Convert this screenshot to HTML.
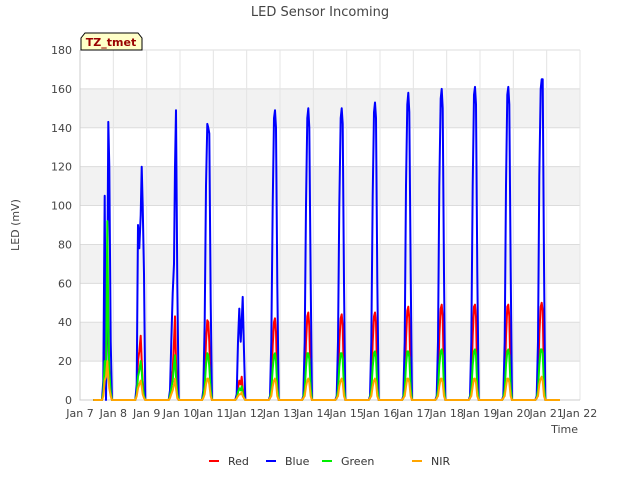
<!DOCTYPE html>
<html><head><meta charset="utf-8"><style>
body{margin:0;background:#fff;font-family:"Liberation Sans","DejaVu Sans",sans-serif}
svg text{font-family:"DejaVu Sans","Liberation Sans",sans-serif}
</style></head><body>
<svg id="c" width="640" height="480" xmlns="http://www.w3.org/2000/svg"></svg>
<script>
const xTickLabels=["Jan 7","Jan 8","Jan 9","Jan 10","Jan 11","Jan 12","Jan 13","Jan 14","Jan 15","Jan 16","Jan 17","Jan 18","Jan 19","Jan 20","Jan 21","Jan 22"];
const yTicks=[0,20,40,60,80,100,120,140,160,180];
const timeOffsets=[0.66,0.70,0.74,0.78,0.82,0.85,0.88,0.92,0.96,1.0];
const blueDays=[
[0,10,105,0,60,143,120,30,0,0],
[0,8,90,78,95,120,100,65,0,0],
[0,5,30,55,70,120,149,60,0,0],
[0,5,40,110,142,140,137,50,0,0],
[0,3,30,47,30,40,53,25,0,0],
[0,2,30,100,145,149,140,60,0,0],
[0,2,30,100,145,150,140,60,0,0],
[0,2,30,100,145,150,142,60,0,0],
[0,2,30,105,148,153,145,62,0,0],
[0,2,30,110,152,158,148,65,0,0],
[0,2,30,110,155,160,150,65,0,0],
[0,2,30,110,157,161,152,66,0,0],
[0,2,30,110,157,161,152,66,0,0],
[0,2,30,115,160,165,165,70,0,0]];
const redDays=[
[0,5,30,20,40,35,15,5,0,0],
[0,4,20,25,33,20,10,2,0,0],
[0,3,10,15,30,43,20,5,0,0],
[0,3,12,30,41,40,30,8,0,0],
[0,2,6,10,8,12,6,2,0,0],
[0,1,8,28,40,42,35,10,0,0],
[0,1,8,30,43,45,38,10,0,0],
[0,1,8,30,42,44,38,10,0,0],
[0,1,8,30,43,45,40,10,0,0],
[0,1,8,32,46,48,42,11,0,0],
[0,1,8,33,47,49,43,11,0,0],
[0,1,8,33,48,49,43,11,0,0],
[0,1,8,33,48,49,43,11,0,0],
[0,1,8,34,48,50,46,12,0,0]];
const greenDays=[
[0,4,20,12,92,40,15,4,0,0],
[0,3,12,15,20,15,7,2,0,0],
[0,2,6,10,18,23,12,3,0,0],
[0,2,7,18,24,23,17,5,0,0],
[0,1,4,6,5,7,4,1,0,0],
[0,1,5,16,23,24,20,6,0,0],
[0,1,5,17,24,24,21,6,0,0],
[0,1,5,17,24,24,21,6,0,0],
[0,1,5,17,24,25,22,6,0,0],
[0,1,5,18,25,25,22,6,0,0],
[0,1,5,18,25,26,23,6,0,0],
[0,1,5,18,25,26,23,6,0,0],
[0,1,5,18,25,26,23,6,0,0],
[0,1,5,18,26,26,24,7,0,0]];
const nirDays=[
[0,2,10,12,20,12,6,2,0,0],
[0,2,6,8,10,7,3,1,0,0],
[0,1,3,5,8,11,6,1,0,0],
[0,1,3,8,11,11,8,2,0,0],
[0,1,2,3,3,4,2,1,0,0],
[0,1,2,7,10,11,9,2,0,0],
[0,1,2,7,10,11,9,2,0,0],
[0,1,2,7,10,11,9,2,0,0],
[0,1,2,7,10,11,9,2,0,0],
[0,1,2,7,11,11,9,2,0,0],
[0,1,2,7,11,11,9,2,0,0],
[0,1,2,7,11,11,9,2,0,0],
[0,1,2,7,11,11,9,2,0,0],
[0,1,2,8,11,12,10,2,0,0]];
const seriesNames=["Red","Blue","Green","NIR"];
const seriesColors=["#ff0000","#0000ff","#00ee00","#ffa500"];

const NS="http://www.w3.org/2000/svg",svg=document.getElementById('c');
const L=80,R=580,T=50,B=400;
const xs=d=>L+d*(R-L)/15, ys=v=>B-v*(B-T)/180;
function mk(t,a,p){const e=document.createElementNS(NS,t);for(const k in a)e.setAttribute(k,a[k]);(p||svg).appendChild(e);return e;}
const bg=mk('rect',{x:L,y:T,width:R-L,height:B-T,fill:'#fff'});

for(let i=0;i<9;i++){if(i%2==1){const b=mk('rect',{x:L,y:ys(yTicks[i+1]),width:R-L,height:ys(yTicks[i])-ys(yTicks[i+1]),fill:'#f2f2f2'});}}
yTicks.forEach(v=>{const g=mk('line',{x1:L,x2:R,y1:ys(v),y2:ys(v),stroke:'#dcdcdc'});
const t=mk('text',{x:L-8,y:ys(v)+4,'text-anchor':'end','font-size':11,fill:'#444'});t.textContent=v;});
xTickLabels.forEach((s,i)=>{const g=mk('line',{x1:xs(i),x2:xs(i),y1:T,y2:B,stroke:'#e4e4e4'});
const t=mk('text',{x:xs(i),y:B+17,'text-anchor':'middle','font-size':11,fill:'#444'});t.textContent=s;});
const ax=mk('path',{d:`M${L} ${T}V${B}H${R}`,stroke:'#ccc',fill:'none'});
[redDays,blueDays,greenDays,nirDays].forEach((days,si)=>{
 let pts=[[0.4,0]];
 days.forEach((vals,d)=>vals.forEach((v,k)=>pts.push([d+timeOffsets[k],v])));
 pts.push([14.4,0]);
 const p=mk('polyline',{points:pts.map(q=>xs(q[0]).toFixed(1)+','+ys(q[1]).toFixed(1)).join(' '),fill:'none',stroke:seriesColors[si],'stroke-width':2,'stroke-linejoin':'round'});
 
});
const ti=mk('text',{x:320,y:16,'text-anchor':'middle','font-size':13,fill:'#444'});ti.textContent='LED Sensor Incoming';
const yl=mk('text',{x:19,y:225,'text-anchor':'middle','font-size':11,fill:'#444',transform:'rotate(-90 19 225)'});yl.textContent='LED (mV)';
const xl=mk('text',{x:578,y:433,'text-anchor':'end','font-size':11,fill:'#444'});xl.textContent='Time';
const tz=mk('path',{d:'M81 50V38L85 33H138L142 38V50Z',fill:'#ffffc8',stroke:'#000'});
const tzt=mk('text',{x:111,y:46,'text-anchor':'middle','font-size':11,'font-weight':'bold',fill:'#990000'});tzt.textContent='TZ_tmet';
const lx=[209,266,322,412];
seriesNames.forEach((n,i)=>{const g=mk('g',{});
mk('line',{x1:lx[i],x2:lx[i]+10,y1:461,y2:461,stroke:seriesColors[i],'stroke-width':2},g);
const t=mk('text',{x:lx[i]+19,y:465,'font-size':11,fill:'#333'},g);t.textContent=n;});
</script>
</body></html>
